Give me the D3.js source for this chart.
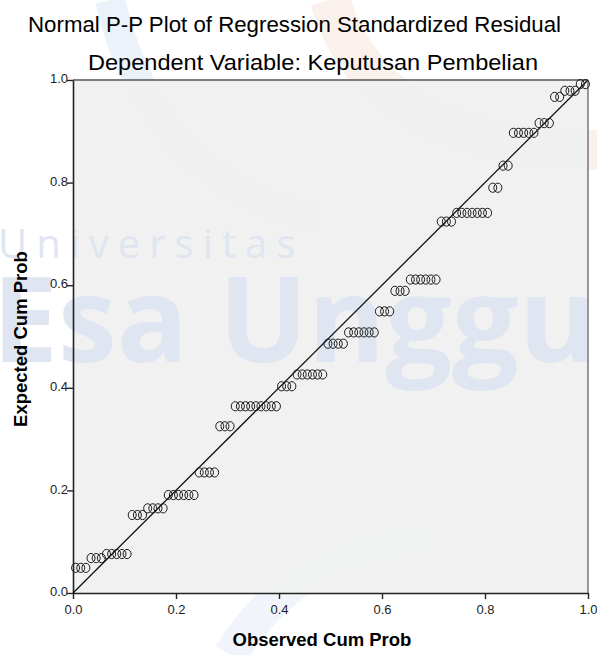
<!DOCTYPE html>
<html>
<head>
<meta charset="utf-8">
<script src="https://cdn.jsdelivr.net/npm/d3@7"></script>
<style>
  body { margin: 0; background: #fff; }
  svg { display: block; font-family: "Liberation Sans", Arial, sans-serif; }
</style>
</head>
<body>
<div id="chart"></div>
<script>
// observed cumulative probability per case
const observedCum = [
  0.005, 0.015, 0.025,
  0.035, 0.045, 0.055,
  0.065, 0.075, 0.085, 0.095, 0.105,
  0.115, 0.125, 0.135,
  0.145, 0.155, 0.165, 0.175,
  0.185, 0.195, 0.205, 0.215, 0.225, 0.235,
  0.245, 0.255, 0.265, 0.275,
  0.285, 0.295, 0.305,
  0.315, 0.325, 0.335, 0.345, 0.355, 0.365, 0.375, 0.385, 0.395,
  0.405, 0.415, 0.425,
  0.435, 0.445, 0.455, 0.465, 0.475, 0.485,
  0.495, 0.505, 0.515, 0.525,
  0.535, 0.545, 0.555, 0.565, 0.575, 0.585,
  0.595, 0.605, 0.615,
  0.625, 0.635, 0.645,
  0.655, 0.665, 0.675, 0.685, 0.695, 0.705,
  0.715, 0.725, 0.735,
  0.745, 0.755, 0.765, 0.775, 0.785, 0.795, 0.805,
  0.815, 0.825,
  0.835, 0.845,
  0.855, 0.865, 0.875, 0.885, 0.895,
  0.905, 0.915, 0.925,
  0.935, 0.945,
  0.955, 0.965, 0.975,
  0.985, 0.995
];
// expected cumulative probability per case
const expectedCum = [
  0.049, 0.049, 0.049,
  0.068, 0.068, 0.068,
  0.076, 0.076, 0.076, 0.076, 0.076,
  0.152, 0.152, 0.152,
  0.165, 0.165, 0.165, 0.165,
  0.191, 0.191, 0.191, 0.191, 0.191, 0.191,
  0.235, 0.235, 0.235, 0.235,
  0.325, 0.325, 0.325,
  0.364, 0.364, 0.364, 0.364, 0.364, 0.364, 0.364, 0.364, 0.364,
  0.403, 0.403, 0.403,
  0.426, 0.426, 0.426, 0.426, 0.426, 0.426,
  0.486, 0.486, 0.486, 0.486,
  0.508, 0.508, 0.508, 0.508, 0.508, 0.508,
  0.549, 0.549, 0.549,
  0.589, 0.589, 0.589,
  0.611, 0.611, 0.611, 0.611, 0.611, 0.611,
  0.724, 0.724, 0.724,
  0.741, 0.741, 0.741, 0.741, 0.741, 0.741, 0.741,
  0.790, 0.790,
  0.833, 0.833,
  0.897, 0.897, 0.897, 0.897, 0.897,
  0.916, 0.916, 0.916,
  0.967, 0.967,
  0.979, 0.979, 0.979,
  0.992, 0.992
];
const tickValues = [0, 0.2, 0.4, 0.6, 0.8, 1.0];

const width = 597;
const height = 655;
const margin = { top: 80, right: 9, bottom: 62, left: 73 };

const svg = d3.select("#chart")
  .append("svg")
  .attr("width", width)
  .attr("height", height);

const x = d3.scaleLinear().domain([0, 1]).range([margin.left, width - margin.right]);
const y = d3.scaleLinear().domain([0, 1]).range([height - margin.bottom, margin.top]);

//Watermark arcs behind everything
const wm = svg.append("g").attr("opacity", 0.5);
wm.append("path")
  .attr("d", "M 110 0 C 140 130 220 200 320 220")
  .attr("fill", "none").attr("stroke", "#dbe6f5").attr("stroke-width", 30);
wm.append("path")
  .attr("d", "M 330 0 C 360 100 450 150 597 150")
  .attr("fill", "none").attr("stroke", "#f7e3da").attr("stroke-width", 40);
wm.append("path")
  .attr("d", "M 230 655 C 290 560 370 540 440 540")
  .attr("fill", "none").attr("stroke", "#e4ecf8").attr("stroke-width", 34);

//Plot background
svg.append("rect")
  .attr("x", x(0)).attr("y", y(1))
  .attr("width", x(1) - x(0)).attr("height", y(0) - y(1))
  .attr("fill", "#f0f0f0")
  .attr("fill-opacity", 0.92);

//Watermark text
svg.append("text")
  .attr("x", -2).attr("y", 258)
  .attr("font-family", "'Open Sans', sans-serif")
  .attr("font-size", 40)
  .attr("letter-spacing", 9)
  .attr("fill", "#dfe6f1")
  .text("Universitas");
svg.append("text")
  .attr("x", -8).attr("y", 362)
  .attr("font-family", "'Open Sans', sans-serif")
  .attr("font-weight", "bold")
  .attr("font-size", 118)
  .attr("fill", "#dfe6f1")
  .text("Esa Unggul");

//Titles
svg.append("text")
  .attr("x", 28).attr("y", 32)
  .attr("font-size", 22)
  .attr("textLength", 533)
  .attr("lengthAdjust", "spacingAndGlyphs")
  .attr("fill", "#000")
  .text("Normal P-P Plot of Regression Standardized Residual");
svg.append("text")
  .attr("x", 88).attr("y", 70)
  .attr("font-size", 22)
  .attr("textLength", 450)
  .attr("lengthAdjust", "spacingAndGlyphs")
  .attr("fill", "#000")
  .text("Dependent Variable: Keputusan Pembelian");

//Frame (top and right)
svg.append("line")
  .attr("x1", x(0)).attr("x2", x(1)).attr("y1", y(1)).attr("y2", y(1))
  .attr("stroke", "#555").attr("stroke-width", 1.5);
svg.append("line")
  .attr("x1", x(1)).attr("x2", x(1)).attr("y1", y(1)).attr("y2", y(0))
  .attr("stroke", "#777").attr("stroke-width", 1.5);

//Axes
const xAxis = svg.append("g")
  .attr("transform", `translate(0, ${y(0)})`)
  .call(d3.axisBottom(x).tickValues(tickValues).tickFormat(d3.format(".1f")).tickSize(6).tickSizeOuter(0));
const yAxis = svg.append("g")
  .attr("transform", `translate(${x(0)}, 0)`)
  .call(d3.axisLeft(y).tickValues(tickValues).tickFormat(d3.format(".1f")).tickSize(6).tickSizeOuter(0));
[xAxis, yAxis].forEach(a => {
  a.select(".domain").attr("stroke", "#222").attr("stroke-width", 1.6);
  a.selectAll(".tick line").attr("stroke", "#222").attr("stroke-width", 1.4);
  a.selectAll(".tick text")
    .attr("font-size", 13)
    .attr("font-family", "'Liberation Sans', Arial, sans-serif")
    .attr("fill", "#222");
});
xAxis.selectAll(".tick text").attr("dy", "0.9em");
yAxis.selectAll(".tick text").attr("x", -5).attr("dy", "0.2em");

//Axis titles
svg.append("text")
  .attr("x", 322).attr("y", 646)
  .attr("text-anchor", "middle")
  .attr("font-size", 18.5)
  .attr("font-weight", "bold")
  .text("Observed Cum Prob");
svg.append("text")
  .attr("transform", `translate(27, 339) rotate(-90)`)
  .attr("text-anchor", "middle")
  .attr("font-size", 18.5)
  .attr("font-weight", "bold")
  .text("Expected Cum Prob");

//Reference diagonal
svg.append("line")
  .attr("x1", x(0)).attr("y1", y(0))
  .attr("x2", x(1)).attr("y2", y(1))
  .attr("stroke", "#111").attr("stroke-width", 1.3);

//Points
const points = observedCum.map((o, i) => ({ o, e: expectedCum[i] }));
svg.append("g")
  .selectAll("ellipse")
  .data(points)
  .enter().append("ellipse")
  .attr("cx", d => x(d.o))
  .attr("cy", d => y(d.e))
  .attr("rx", 4)
  .attr("ry", 4.6)
  .attr("fill", "none")
  .attr("stroke", "#1a1a1a")
  .attr("stroke-width", 1);
</script>
</body>
</html>
